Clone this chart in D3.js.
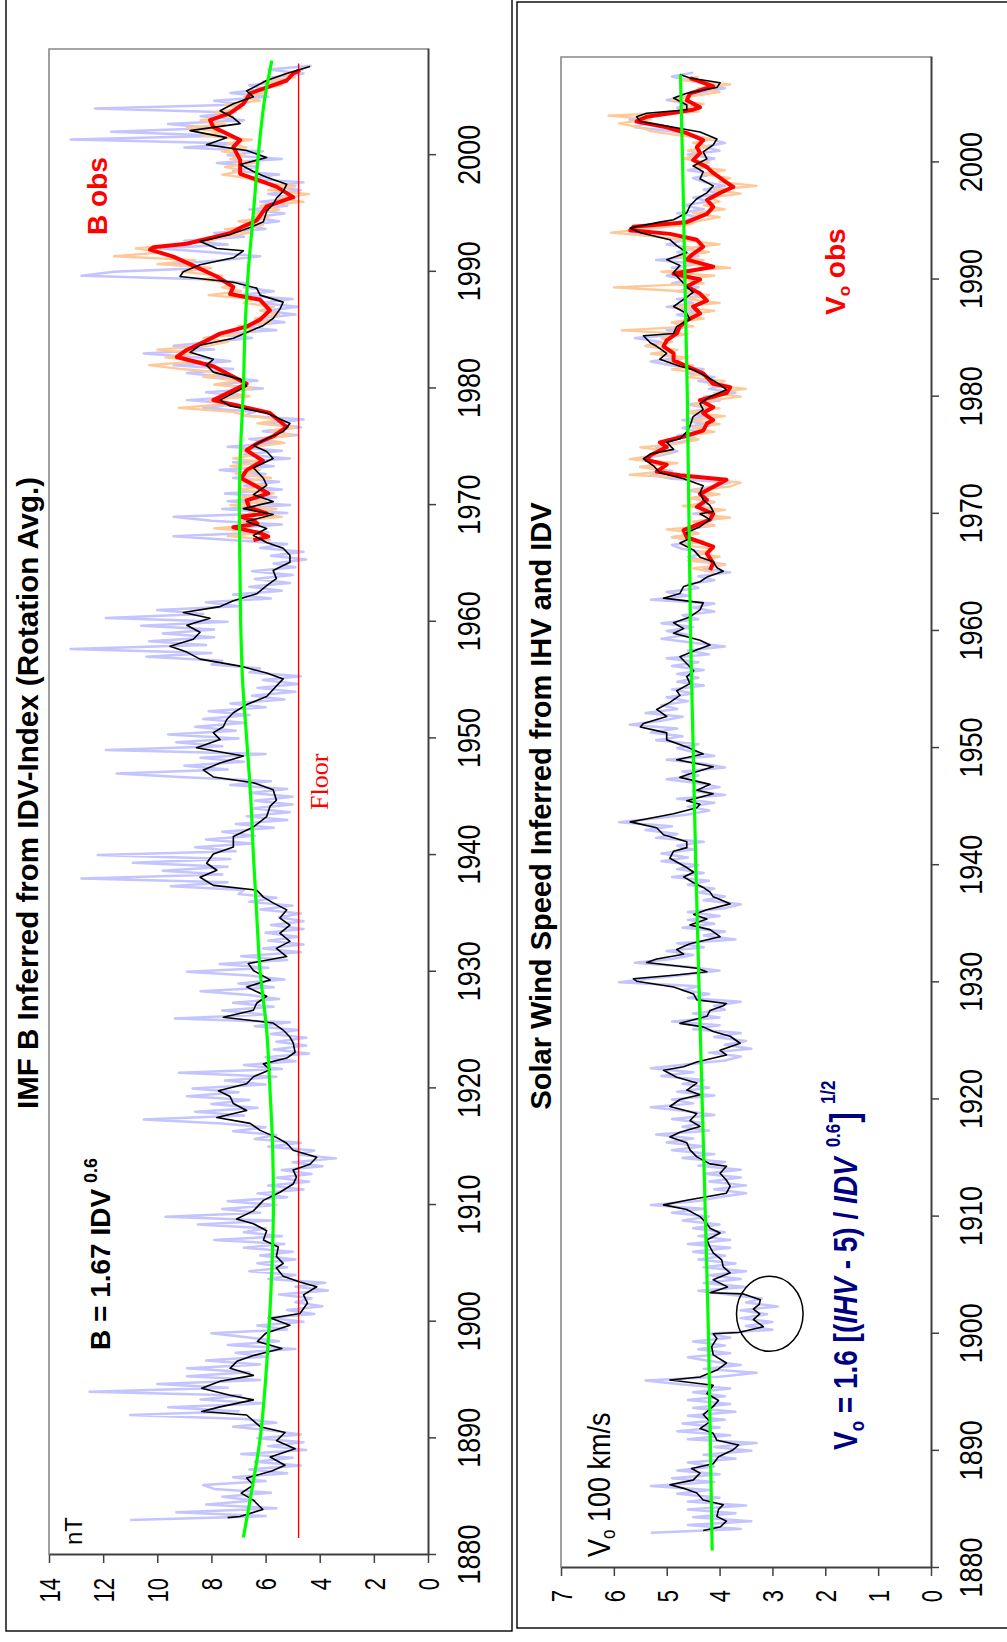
<!DOCTYPE html>
<html>
<head>
<meta charset="utf-8">
<script src="https://cdn.jsdelivr.net/npm/d3@7"></script>
<style>
  html, body { margin: 0; padding: 0; background: #fff; }
  svg { display: block; }
  text { font-family: "Liberation Sans", Arial, Helvetica, sans-serif; }
</style>
</head>
<body>
<svg id="chart" width="1007" height="1642"></svg>
<script>
// ---------------- data ----------------
const yearTicks = [1880, 1890, 1900, 1910, 1920, 1930, 1940, 1950, 1960, 1970, 1980, 1990, 2000];
const imfTicks = [0, 2, 4, 6, 8, 10, 12, 14];
const speedTicks = [0, 1, 2, 3, 4, 5, 6, 7];
const rawStep = 1 / 3;   // raw series sampled three times per year

// IMF B (nT): raw inferred values, starting 1883.0
const imfRawStart = 1883.0;
const imfRaw = [
  11.0,6.0,9.3, 5.6,8.2,6.4, 7.6,5.8,7.9, 8.3,6.0,7.2, 5.2,6.6,4.7, 6.4,5.0,6.9, 4.5,5.9,4.6, 6.3,4.7,5.8, 7.2,5.6,6.8, 11.0,7.0,9.6,
  6.1,8.4,6.9, 12.5,7.4,10.0, 6.2,8.9,6.6, 8.9,6.2,8.2, 6.0,7.1,4.9, 7.4,5.5,6.7, 8.0,5.2,6.3, 4.6,5.9,4.2, 5.2,3.9,4.9, 4.3,5.5,3.7,
  4.9,3.8,5.9, 4.9,6.6,5.2, 6.3,4.9,6.2, 5.0,6.8,5.3, 7.9,5.4,6.8, 6.0,8.5,5.8, 9.7,6.2,7.6, 5.6,7.4,5.2, 6.3,4.6,5.9, 4.4,5.6,4.3,
  5.4,3.9,5.0, 3.4,4.8,4.2, 5.9,4.7,6.4, 5.6,7.2,6.0, 7.6,10.5,6.8, 8.6,6.3,8.0, 6.6,8.9,7.0, 8.7,6.0,7.5, 5.6,9.2,5.4, 6.8,4.9,6.0,
  4.4,5.7,4.5, 5.6,4.5,5.8, 4.8,6.4,5.1, 9.35,6.0,7.6, 5.7,7.2,5.5, 6.6,8.4,5.7, 7.0,5.3,6.6, 8.9,5.9,7.7, 5.2,6.9,4.7, 6.1,4.6,5.9,
  4.8,6.0,4.6, 5.8,4.6,5.5, 4.7,6.2,5.0, 6.6,5.6,7.0, 6.8,9.5,7.4, 12.8,7.6,9.8, 7.4,10.9,7.3, 12.2,7.1,8.6, 6.5,8.2,6.4, 7.6,5.7,7.1,
  5.2,6.7,5.1, 6.5,5.0,6.4, 5.0,6.6,5.2, 7.3,5.8,9.0, 11.5,7.4,9.0, 6.8,8.4,6.0, 11.9,7.6,9.3, 7.0,9.6,7.1, 8.6,6.7,8.3, 6.6,8.1,6.0,
  7.3,5.3,6.5, 4.9,6.3,4.8, 6.1,4.7,6.6, 6.2,8.0,7.6, 10.4,8.0,13.2, 8.2,10.3,7.9, 9.8,7.9,10.6, 7.4,11.9,8.3, 10.0,7.0,8.2, 5.8,7.2,5.4,
  6.6,5.1,6.4, 5.0,6.5,4.9, 5.7,4.5,5.8, 4.6,6.2,5.2, 7.3,9.4,5.9, 7.6,5.4,8.0, 9.4,5.2,7.6, 5.1,7.4,5.6, 7.5,5.4,6.8, 5.5,7.2,6.0,
  7.7,5.7,7.2, 5.1,6.8,5.4, 7.4,5.5,6.6, 4.8,6.1,4.7, 5.9,4.6,6.8, 6.4,8.3,7.0, 8.9,6.7,8.2, 6.1,7.8,6.3, 7.6,8.9,7.2, 9.4,7.3,8.6,
  10.5,7.9,9.4, 7.9,6.5,7.8, 5.6,6.9,5.3, 6.3,4.9,6.0, 4.8,6.2,5.0, 7.0,5.7,6.8, 6.6,8.0,12.8, 11.6,8.2,9.5, 7.6,6.2,8.0, 9.9,7.4,9.0,
  6.8,7.9,6.0, 6.7,5.5,6.5, 5.3,6.6,5.2, 6.2,4.9,5.9, 4.7,5.8,4.6, 6.7,5.5,7.2, 6.3,7.8,5.4, 7.4,6.1,9.0, 7.0,13.2,7.6, 11.7,7.9,9.6,
  6.8,8.4,7.1, 12.3,6.8,7.9, 5.9,7.3,6.0, 6.6,5.2,5.8, 4.6,5.9,4.3
];

// IMF B running mean [year, nT]
const imfSmooth = [
  [1883.2,7.4],[1883.3,6.95],[1883.9,6.1],[1884.7,6.45],[1885.3,6.9],[1886.0,6.45],[1886.6,6.7],[1887.2,5.77],[1887.7,5.28],[1888.4,5.83],
  [1889.1,4.91],[1889.8,5.59],[1890.5,5.28],[1891.0,6.2],[1892.0,6.7],[1892.3,8.36],[1892.7,7.68],[1893.3,6.45],[1893.7,7.31],[1894.3,8.36],
  [1894.9,7.68],[1895.4,6.45],[1896.0,7.31],[1896.6,7.06],[1897.1,6.45],[1897.7,5.4],[1898.3,6.3],[1899.0,6.0],[1899.7,5.1],[1900.3,5.8],
  [1900.7,4.73],[1901.6,4.45],[1902.3,4.6],[1903.0,4.11],[1903.4,4.73],[1903.9,5.35],[1904.6,5.6],[1905.0,5.35],[1905.6,5.6],[1906.4,5.53],
  [1907.0,6.08],[1907.8,5.96],[1908.4,6.45],[1908.8,7.07],[1909.5,6.45],[1910.4,6.08],[1911.1,5.47],[1911.8,4.98],[1912.4,4.86],[1913.0,4.98],
  [1913.5,4.36],[1914.1,4.11],[1914.7,4.98],[1915.3,5.22],[1915.8,5.6],[1916.4,6.2],[1917.0,6.57],[1917.5,7.8],[1918.1,6.7],[1918.7,7.19],
  [1919.3,7.31],[1919.8,7.74],[1920.4,6.7],[1921.0,6.45],[1921.6,5.83],[1922.1,6.08],[1922.6,5.22],[1923.1,4.91],[1923.9,4.98],[1924.4,5.1],
  [1925.0,5.35],[1925.6,5.72],[1926.1,7.56],[1926.7,6.45],[1927.3,6.33],[1927.9,5.96],[1928.7,6.7],[1929.3,5.83],[1930.1,6.45],[1930.7,6.64],
  [1931.3,5.22],[1932.0,5.6],[1932.6,5.1],[1933.3,5.47],[1934.0,5.1],[1934.6,5.47],[1935.3,5.22],[1935.9,5.72],[1936.4,6.08],[1937.0,6.33],
  [1937.4,7.93],[1938.1,8.42],[1938.7,7.8],[1939.3,8.18],[1940.1,7.93],[1940.7,7.19],[1941.6,7.19],[1942.4,6.45],[1943.3,5.96],[1944.2,5.83],
  [1944.7,5.6],[1945.6,5.72],[1946.2,6.45],[1946.7,7.93],[1947.3,8.3],[1947.9,7.68],[1948.5,6.82],[1949.2,8.55],[1949.9,7.68],[1950.5,7.93],
  [1951.0,7.56],[1951.6,7.44],[1952.2,7.19],[1952.9,6.7],[1953.6,5.96],[1954.5,5.6],[1955.1,5.35],[1955.6,5.96],[1956.2,6.94],[1956.8,8.42],
  [1957.4,8.91],[1957.9,9.53],[1958.5,8.67],[1959.1,8.42],[1959.7,8.91],[1960.3,8.05],[1960.8,9.04],[1961.3,7.68],[1961.8,7.19],[1962.4,6.33],
  [1963.1,5.96],[1963.7,5.6],[1964.4,5.72],[1965.1,5.1],[1965.7,5.1],[1966.3,5.35],[1966.8,5.96],[1967.4,6.45],[1968.0,5.96],[1968.6,6.7],
  [1969.2,5.72],[1969.7,6.82],[1970.3,5.72],[1970.9,6.45],[1971.7,5.96],[1972.3,6.08],[1973.2,6.45],[1974.0,5.72],[1974.6,5.96],[1975.1,6.45],
  [1975.7,5.96],[1976.3,5.35],[1977.0,5.1],[1977.9,5.96],[1978.5,7.31],[1979.0,7.68],[1979.6,7.19],[1980.2,6.7],[1980.8,6.94],[1981.4,7.93],
  [1982.0,8.18],[1982.5,7.93],[1983.1,8.79],[1983.7,8.42],[1984.3,7.19],[1984.8,6.7],[1985.4,6.08],[1986.0,5.72],[1986.8,5.47],[1987.4,5.35],
  [1988.0,6.2],[1988.6,6.33],[1989.1,7.19],[1989.6,9.16],[1990.0,9.04],[1990.6,8.42],[1991.2,7.19],[1991.8,6.82],[1992.0,7.8],[1992.6,8.42],
  [1993.2,7.31],[1993.8,6.57],[1994.3,6.08],[1995.2,5.96],[1995.8,5.72],[1996.3,5.6],[1996.9,5.35],[1997.5,5.22],[1998.1,5.96],[1998.6,6.45],
  [1999.2,6.94],[1999.8,5.96],[2000.4,6.7],[2000.9,8.18],[2001.5,7.44],[2002.1,8.79],[2002.7,6.94],[2003.2,7.19],[2003.8,7.68],[2004.4,7.19],
  [2005.0,6.45],[2005.5,6.7],[2006.4,5.96],[2007.0,5.22],[2007.6,4.36]
];

// observed B: raw values from 1967.0 and running mean [year, nT]
const imfObsRawStart = 1967.0;
const imfObsRaw = [
  5.8,7.4,6.0, 7.9,6.2,7.0, 5.4,6.6,5.6, 7.3,6.0,6.9, 5.7,7.0,6.0, 6.9,5.8,7.1, 6.2,7.3,6.1, 7.2,6.3,6.9, 6.4,5.3,6.1, 5.0,5.8,4.9,
  6.3,5.4,6.7, 7.2,9.2,7.4, 8.1,6.6,7.4, 6.5,7.9,7.0, 8.3,7.5,9.1, 10.3,8.4,9.7, 8.6,10.0,8.1, 7.4,8.3,6.9, 6.4,7.0,5.8, 6.4,5.5,6.2,
  5.7,6.8,6.4, 8.1,6.9,7.6, 7.2,8.3,7.6, 9.1,8.0,10.0, 8.6,11.6,9.8, 10.8,9.2,8.0, 7.6,6.6,7.5, 6.1,7.0,5.9, 6.5,5.5,6.2, 4.6,5.5,4.4,
  5.9,4.9,6.3, 6.6,7.6,6.8, 7.5,6.4,7.3, 6.8,7.6,6.7, 7.4,6.5,8.3, 7.6,8.9,7.5, 8.4,7.2,7.9, 6.9,7.5,6.2, 6.8,6.0,6.3, 5.4,6.1,4.9,
  5.3,4.6
];
const imfObs = [
  [1967.0,6.45],[1967.3,5.9],[1967.6,6.2],[1968.1,7.19],[1968.4,6.3],[1968.7,6.45],[1969.0,6.9],[1969.3,5.96],[1969.8,6.6],[1970.4,6.7],
  [1971.0,5.9],[1971.6,6.33],[1972.3,6.9],[1973.0,6.7],[1973.8,6.1],[1974.7,6.7],[1975.3,6.3],[1975.9,5.72],[1976.7,5.22],[1977.9,5.84],
  [1979.0,7.93],[1980.4,6.7],[1981.9,7.93],[1982.7,9.28],[1983.3,8.91],[1984.1,8.18],[1984.7,7.68],[1985.3,6.7],[1985.9,6.2],[1986.7,5.84],
  [1987.6,6.2],[1988.1,7.31],[1988.7,7.19],[1989.6,7.8],[1990.4,8.55],[1991.3,9.41],[1991.9,10.27],[1992.1,10.15],[1992.4,8.91],[1993.3,7.31],
  [1993.9,6.82],[1994.4,6.33],[1995.6,5.96],[1996.4,4.98],[1997.3,5.6],[1998.4,6.94],[1999.6,6.94],[2000.7,7.19],[2001.3,6.94],[2002.4,7.93],
  [2003.0,8.05],[2003.6,7.31],[2004.4,6.82],[2005.3,6.57],[2005.9,5.84],[2006.4,5.22],[2007.0,4.98],[2007.3,4.73]
];

// long-term trend of B [year, nT]
const imfTrend = [
  [1881.5,6.82],[1885,6.55],[1890,6.2],[1895,6.0],[1900,5.86],[1905,5.76],[1910,5.71],[1915,5.74],[1920,5.84],[1925,5.96],
  [1930,6.2],[1935,6.33],[1940,6.45],[1945,6.55],[1950,6.7],[1955,6.85],[1960,6.92],[1965,6.95],[1970,6.97],[1975,6.92],
  [1980,6.82],[1985,6.76],[1990,6.64],[1995,6.45],[2000,6.27],[2005,6.02],[2008.1,5.77]
];
const imfFloor = 4.78;
const floorSpan = [1881.46, 2007.86];

// Solar wind speed (100 km/s): raw inferred values, starting 1883.0
const speedRawStart = 1883.0;
const speedRaw = [
  5.3,3.6,4.6, 3.4,4.5,3.7, 4.6,3.5,4.6, 4.0,4.8,4.2, 5.3,4.1,4.9, 4.0,4.8,4.1, 4.6,3.7,4.3, 3.4,4.1,3.3, 4.6,3.8,4.8, 4.0,4.7,3.9,
  4.6,3.7,4.5, 3.8,4.6,3.9, 4.5,3.8,4.7, 5.4,4.0,3.3, 4.3,3.6,4.2, 4.6,3.8,4.4, 3.9,4.5,3.8, 4.2,3.0,3.5, 3.0,3.6,3.1, 3.6,2.9,3.5,
  3.2,3.8,4.4, 3.5,4.3,3.6, 4.2,3.5,4.3, 3.7,4.4,3.9, 4.5,3.8,4.6, 3.8,4.4,3.9, 4.5,4.0,4.7, 4.2,4.9,4.3, 5.3,4.4,4.0, 3.5,4.1,3.5,
  4.2,3.6,4.3, 3.6,4.4,3.9, 4.7,4.1,4.9, 4.3,5.0,4.5, 5.2,4.2,4.7, 4.3,4.9,4.1, 4.6,5.3,4.5, 4.9,4.1,4.8, 4.2,4.7,4.3, 5.1,4.5,5.3,
  4.6,3.9,3.6, 4.2,3.4,3.9, 3.5,4.1,3.6, 4.5,4.0,4.9, 4.0,4.5,3.9, 4.1,3.6,4.6, 4.2,4.7,4.4, 5.9,5.3,4.6, 4.0,4.6,5.6, 4.9,4.5,5.0,
  4.3,4.8,3.7, 4.3,3.9,4.7, 4.1,4.6,4.0, 4.6,3.9,3.6, 4.3,3.9,4.4, 4.1,4.6,4.2, 4.9,4.3,4.8, 4.4,5.1,4.6, 5.1,4.5,4.8, 4.3,5.2,4.8,
  5.4,4.9,5.9, 5.2,4.6,4.2, 4.6,4.1,4.8, 3.9,4.5,4.0, 4.4,5.0,4.4, 4.7,3.9,4.3, 5.0,4.1,4.5, 4.8,4.4,5.2, 4.7,5.3,4.8, 5.7,5.1,4.7,
  5.4,4.8,5.1, 4.6,5.0,4.5, 4.9,4.3,4.8, 4.4,4.8,4.3, 4.9,4.4,5.0, 4.2,4.6,3.9, 4.5,5.1,4.6, 5.0,4.5,5.1, 4.4,4.7,4.1, 4.5,4.1,5.3,
  4.6,5.0,4.4, 4.6,4.1,4.4, 3.8,4.3,3.9, 4.3,4.6,4.2, 4.7,4.9,4.4, 4.9,4.4,4.7, 4.1,4.5,3.9, 4.5,4.0,4.4, 4.1,4.5,4.2, 4.6,4.1,3.8,
  4.9,5.3,4.9, 5.5,5.0,5.6, 5.1,4.8,5.2, 4.9,4.5,4.8, 4.4,4.7,4.3, 4.7,4.3,4.6, 4.2,4.6,4.0, 4.3,3.7,4.2, 3.9,4.4,4.1, 4.6,4.3,4.9,
  5.3,4.8,5.2, 4.9,5.4,5.1, 5.6,4.7,5.0, 4.6,4.9,4.4, 4.8,4.4,5.0, 4.5,4.8,4.3, 4.8,4.4,4.9, 4.6,5.0,4.6, 4.9,4.4,5.2, 4.4,4.8,4.5,
  5.0,4.7,5.2, 5.7,5.4,4.9, 4.7,4.4,4.8, 4.3,4.7,4.2, 4.5,4.0,4.3, 3.9,4.3,4.5, 4.1,4.6,4.2, 4.4,4.1,4.6, 4.0,4.3,3.9, 4.2,4.5,4.9,
  5.6,5.4,5.7, 5.2,4.5,4.8, 4.6,5.0,4.6, 4.3,3.9,4.2, 4.6,4.9,4.5
];

// Solar wind speed running mean [year, 100 km/s]
const speedSmooth = [
  [1883.2,4.31],[1883.5,3.99],[1884.0,3.87],[1884.4,4.05],[1885.0,4.02],[1885.4,3.93],[1885.8,4.31],[1886.4,4.43],[1886.8,4.68],[1887.1,4.94],
  [1887.5,4.5],[1888.1,4.37],[1888.5,4.53],[1888.9,4.12],[1889.5,4.02],[1890.1,3.74],[1890.5,3.64],[1890.9,4.05],[1891.5,4.12],[1891.9,4.37],
  [1892.5,4.18],[1893.1,4.31],[1893.8,4.12],[1894.3,4.02],[1894.9,4.24],[1895.6,4.12],[1896.05,4.94],[1896.3,4.37],[1896.9,4.05],[1897.5,3.87],
  [1898.2,4.12],[1898.9,4.15],[1899.6,4.05],[1900.0,4.12],[1900.1,3.64],[1900.6,3.17],[1901.2,3.36],[1901.7,3.24],[1902.1,3.36],[1902.5,3.25],
  [1902.9,3.23],[1903.4,3.55],[1903.5,4.18],[1904.0,3.85],[1904.6,4.12],[1905.2,3.80],[1905.7,3.93],[1906.3,3.96],[1906.9,4.12],[1907.4,4.18],
  [1908.0,4.24],[1908.6,3.99],[1909.0,4.18],[1909.4,4.24],[1910.0,4.37],[1910.6,4.62],[1911.0,5.06],[1911.4,4.62],[1912.0,3.87],[1912.6,3.80],
  [1913.1,3.87],[1913.7,3.99],[1914.3,3.87],[1914.5,4.18],[1915.1,4.43],[1915.7,4.56],[1916.3,4.62],[1916.8,4.94],[1917.2,4.75],[1917.7,4.37],
  [1918.2,4.56],[1918.8,4.43],[1919.4,4.94],[1920.0,4.75],[1920.4,4.37],[1920.8,4.62],[1921.4,4.43],[1921.9,4.81],[1922.5,5.06],[1922.8,4.68],
  [1923.2,4.43],[1923.8,3.87],[1924.2,3.99],[1924.8,3.61],[1925.4,3.80],[1925.8,4.12],[1926.2,4.31],[1926.5,4.75],[1927.1,4.24],[1927.6,4.18],
  [1928.0,3.93],[1928.2,3.87],[1928.5,4.43],[1929.0,4.49],[1929.6,4.87],[1930.1,5.57],[1930.3,5.63],[1930.6,4.87],[1930.9,4.24],[1931.2,4.43],
  [1931.7,5.38],[1932.0,5.19],[1932.4,4.68],[1932.8,4.81],[1933.3,4.56],[1933.9,3.99],[1934.5,4.18],[1934.9,4.56],[1935.4,4.24],[1935.8,4.49],
  [1936.2,4.24],[1936.7,3.80],[1937.3,4.12],[1937.7,4.18],[1938.1,4.31],[1938.5,4.49],[1939.0,4.68],[1939.4,4.49],[1939.8,4.62],[1940.6,4.94],
  [1941.2,4.87],[1941.5,4.62],[1942.0,4.62],[1942.6,5.06],[1943.2,5.19],[1943.7,5.69],[1943.9,5.44],[1944.4,4.87],[1944.9,4.43],[1945.2,4.37],
  [1945.5,4.62],[1946.1,4.12],[1946.4,4.43],[1946.9,4.18],[1947.5,4.75],[1947.8,4.56],[1948.4,4.12],[1949.0,4.81],[1949.5,4.31],[1950.1,4.62],
  [1950.7,5.0],[1951.3,5.0],[1951.8,5.50],[1952.1,5.44],[1952.7,5.0],[1953.3,5.19],[1953.9,4.94],[1954.5,4.75],[1954.9,4.81],[1955.5,4.56],
  [1956.1,4.62],[1956.6,4.49],[1957.2,4.62],[1957.8,4.75],[1958.4,4.43],[1958.8,4.18],[1959.2,4.37],[1959.8,4.87],[1960.2,4.68],[1960.7,4.87],
  [1961.2,4.56],[1961.8,4.37],[1962.4,4.31],[1962.8,5.06],[1963.2,4.75],[1963.8,4.68],[1964.2,4.37],[1964.6,4.24],[1965.1,3.93],[1965.4,4.05],
  [1965.9,4.12],[1966.3,4.37],[1966.9,4.49],[1967.5,4.75],[1967.9,4.56],[1968.4,4.62],[1968.9,4.37],[1969.5,4.18],[1970.0,4.37],[1970.2,4.12],
  [1970.7,4.18],[1971.2,4.31],[1971.8,4.37],[1972.4,4.31],[1973.0,4.68],[1973.5,5.13],[1974.1,5.25],[1974.7,5.44],[1975.1,5.31],[1975.5,4.87],
  [1976.1,5.0],[1976.4,4.75],[1977.0,4.62],[1977.5,4.56],[1978.3,4.50],[1978.9,4.31],[1979.4,4.37],[1980.0,4.18],[1980.6,3.87],[1981.2,4.05],
  [1981.7,4.24],[1982.3,4.50],[1982.6,4.75],[1983.2,5.13],[1983.7,5.0],[1984.3,5.19],[1984.6,5.31],[1985.2,5.44],[1985.4,4.87],[1986.0,4.81],
  [1986.6,4.56],[1987.1,4.62],[1987.7,4.87],[1988.3,4.68],[1988.9,4.50],[1989.4,4.62],[1990.0,4.75],[1990.6,4.87],[1991.2,4.75],[1991.7,5.0],
  [1992.3,4.62],[1992.9,4.81],[1993.4,4.94],[1994.0,5.50],[1994.4,5.69],[1994.9,5.13],[1995.1,4.87],[1995.7,4.62],[1996.3,4.56],[1996.9,4.43],
  [1997.4,4.24],[1998.0,4.12],[1998.6,4.37],[1999.2,4.31],[1999.7,4.50],[2000.3,4.24],[2000.9,4.31],[2001.5,4.12],[2002.0,4.05],[2002.6,4.37],
  [2003.0,4.87],[2003.5,5.50],[2003.9,5.57],[2004.2,5.38],[2004.5,4.62],[2004.9,4.62],[2005.5,4.87],[2005.9,4.62],[2006.4,4.05],[2006.8,3.99],
  [2007.2,4.56],[2007.5,4.75]
];

// observed solar wind speed: raw values from 1965.0 and running mean
const speedObsRawStart = 1965.0;
const speedObsRaw = [
  4.1,4.5,3.9, 4.6,4.0,4.4, 4.1,4.7,4.3, 4.9,4.4,5.0, 4.1,4.5,3.8, 4.4,3.9,4.7, 4.1,4.6,4.0, 4.5,3.8,3.6, 4.3,5.7,5.0, 5.5,4.8,5.7,
  5.2,4.9,5.5, 4.8,4.4,4.6, 4.1,4.5,4.0, 4.5,3.9,4.6, 4.0,4.5,4.2, 3.6,4.1,3.5, 4.2,3.9,4.6, 4.3,4.9,4.5, 5.0,4.6,5.3, 4.8,5.4,4.9,
  5.1,4.6,5.85, 4.5,4.9,4.3, 4.6,4.1,4.8, 4.0,4.6,4.2, 4.7,6.0,4.3, 4.7,4.1,5.1, 3.8,4.6,4.3, 4.8,4.2,4.7, 4.0,4.6,5.2, 6.05,5.4,4.6,
  4.4,4.0,4.5, 3.9,4.3,4.0, 4.2,3.6,4.1, 3.3,4.0,3.8, 4.3,3.9,4.5, 4.2,4.7,4.3, 4.6,4.2,4.5, 4.1,4.8,5.3, 5.5,5.9,5.3, 6.1,4.4,4.7,
  4.3,4.9,4.5, 4.0,4.4,3.8, 4.7,4.4
];
const speedObs = [
  [1965.2,4.18],[1965.8,4.12],[1966.6,4.24],[1967.2,4.12],[1968.0,4.62],[1968.6,4.68],[1969.5,4.18],[1970.0,4.12],[1970.6,4.43],[1971.2,4.24],
  [1971.7,4.37],[1972.3,4.12],[1972.9,3.87],[1973.3,4.75],[1973.6,5.19],[1974.2,5.0],[1974.6,5.38],[1975.0,5.31],[1975.7,5.0],[1976.1,5.13],
  [1976.6,4.68],[1977.1,4.31],[1977.7,4.24],[1978.0,4.12],[1978.6,4.31],[1979.1,4.12],[1979.7,4.37],[1980.3,3.87],[1980.8,3.80],[1981.1,4.12],
  [1982.0,4.31],[1982.6,4.62],[1983.1,4.87],[1983.7,4.87],[1984.3,5.06],[1984.8,5.0],[1985.4,4.81],[1986.0,4.75],[1986.5,4.62],[1987.1,4.37],
  [1987.7,4.50],[1988.2,4.24],[1988.8,4.37],[1989.4,4.62],[1990.0,4.37],[1990.5,4.87],[1991.1,4.12],[1991.7,4.62],[1992.2,4.50],[1992.8,4.31],
  [1993.4,4.43],[1993.9,4.94],[1994.2,5.69],[1994.5,5.63],[1994.9,4.62],[1995.6,4.24],[1996.2,4.12],[1996.8,4.24],[1997.4,3.99],[1997.9,3.74],
  [1998.3,3.87],[1999.1,4.12],[1999.6,4.24],[2000.2,4.50],[2000.8,4.37],[2001.3,4.43],[2001.9,4.31],[2002.5,4.62],[2003.0,5.0],[2003.5,5.57],
  [2003.9,5.38],[2004.5,4.50],[2004.7,4.37],[2005.3,4.62],[2005.9,4.56],[2006.5,4.12],[2007.0,4.43],[2007.2,4.56]
];

// long-term trend of the speed [year, 100 km/s]
const speedTrend = [
  [1881.5,4.14],[1900,4.21],[1920,4.33],[1940,4.45],[1960,4.55],[1980,4.61],[2000,4.70],[2007.5,4.74]
];

// circled interval (centre year, centre speed, half-width in years, half-height in speed)
const circled = { year: 1901.7, value: 3.05, dYear: 3.2, dValue: 0.63 };

// ---------------- drawing ----------------
const svg = d3.select("#chart");
svg.append("rect").attr("width", 1007).attr("height", 1642).attr("fill", "#fff");

// the figure is laid out landscape and turned a quarter turn counter-clockwise
const root = svg.append("g").attr("transform", "translate(0,1642) rotate(-90)");

function addLabel(g, u, v, parts, o) {
  const t = g.append("text")
    .attr("transform", `translate(${u},${v}) scale(1,${o.k || 1})`)
    .attr("text-anchor", o.anchor || "start")
    .attr("font-size", o.size)
    .attr("font-weight", o.weight || "normal")
    .attr("fill", o.color || "#000");
  if (o.family) t.style("font-family", o.family);
  parts.forEach(p => {
    const s = t.append("tspan").text(p.t);
    if (p.size) s.attr("font-size", p.size);
    if (p.dy) s.attr("dy", p.dy);
    if (p.dx) s.attr("dx", p.dx);
    if (p.italic) s.attr("font-style", "italic");
  });
  return t;
}

function drawPanel(p) {
  const g = root.append("g");

  g.append("rect")
    .attr("x", p.frame[0]).attr("y", p.frame[1])
    .attr("width", p.frame[2] - p.frame[0]).attr("height", p.frame[3] - p.frame[1])
    .attr("fill", "none").attr("stroke", "#000").attr("stroke-width", 1.4);

  const x = d3.scaleLinear().domain([1880, p.yearMax]).range([p.left, p.right]);
  const y = d3.scaleLinear().domain([0, p.vMax]).range([p.bottom, p.top]);

  // plot-area border on the two sides without an axis
  g.append("path")
    .attr("d", `M${p.left},${p.top}H${p.right}V${p.bottom}`)
    .attr("fill", "none").attr("stroke", "#888").attr("stroke-width", 1.6);

  const line = d3.line().x(d => x(d[0])).y(d => y(d[1]));
  const toPairs = (start, arr) => arr.map((v, i) => [start + i * rawStep, v]);

  g.append("path").datum(toPairs(p.rawStart, p.raw))
    .attr("d", line).attr("fill", "none")
    .attr("stroke", "#c4c4ff").attr("stroke-width", 2.5).attr("stroke-linejoin", "round");

  g.append("path").datum(toPairs(p.obsRawStart, p.obsRaw))
    .attr("d", line).attr("fill", "none")
    .attr("stroke", "#ffc896").attr("stroke-width", 2.3).attr("stroke-linejoin", "round");

  if (p.floor !== undefined) {
    g.append("line")
      .attr("x1", x(p.floorSpan[0])).attr("x2", x(p.floorSpan[1]))
      .attr("y1", y(p.floor)).attr("y2", y(p.floor))
      .attr("stroke", "#ff0000").attr("stroke-width", 1.4);
  }

  g.append("path").datum(p.obs)
    .attr("d", line).attr("fill", "none")
    .attr("stroke", "#ff0000").attr("stroke-width", 4).attr("stroke-linejoin", "round");

  g.append("path").datum(p.smooth)
    .attr("d", line).attr("fill", "none")
    .attr("stroke", "#000").attr("stroke-width", 1.6).attr("stroke-linejoin", "round");

  g.append("path").datum(p.trend)
    .attr("d", d3.line().x(d => x(d[0])).y(d => y(d[1])).curve(d3.curveMonotoneX))
    .attr("fill", "none").attr("stroke", "#00ff00").attr("stroke-width", 3.2);

  // year axis
  const xa = g.append("g").attr("transform", `translate(0,${p.bottom})`)
    .call(d3.axisBottom(x).tickValues(yearTicks).tickFormat(d3.format("d"))
      .tickSize(8).tickSizeOuter(0).tickPadding(0));
  xa.select(".domain").attr("stroke", "#404040").attr("stroke-width", 2);
  xa.selectAll(".tick line").attr("stroke", "#404040").attr("stroke-width", 1.5);
  xa.selectAll(".tick text")
    .attr("fill", "#000").attr("font-size", 27)
    .attr("y", p.yearLabelBase / 1.19).attr("dy", null)
    .attr("transform", "scale(1,1.19)");

  // value axis
  const ya = g.append("g").attr("transform", `translate(${p.left},0)`)
    .call(d3.axisLeft(y).tickValues(p.vTicks).tickFormat(d3.format("d"))
      .tickSize(8).tickSizeOuter(0).tickPadding(0));
  ya.select(".domain").attr("stroke", "#404040").attr("stroke-width", 2);
  ya.selectAll(".tick line").attr("stroke", "#404040").attr("stroke-width", 1.5);
  ya.selectAll(".tick text")
    .attr("fill", "#000").attr("font-size", 22)
    .attr("x", -p.valueLabelGap).attr("dy", "0.36em")
    .attr("transform", "scale(1,1.3)");

  return { g, x, y };
}

// ---- panel 1: IMF B ----
const P1 = drawPanel({
  frame: [11, 6, 1670, 512],
  left: 87, right: 1593, top: 49, bottom: 428,
  yearMax: 2009.1, vMax: 14, vTicks: imfTicks,
  raw: imfRaw, rawStart: imfRawStart,
  obsRaw: imfObsRaw, obsRawStart: imfObsRawStart,
  obs: imfObs, smooth: imfSmooth, trend: imfTrend,
  floor: imfFloor, floorSpan: floorSpan,
  yearLabelBase: 52, valueLabelGap: 23
});
addLabel(P1.g, 849, 38, [{ t: "IMF B Inferred from IDV-Index (Rotation Avg.)" }],
  { size: 29.5, weight: "bold", anchor: "middle" });
addLabel(P1.g, 97, 82, [{ t: "nT" }], { size: 24 });
addLabel(P1.g, 292, 110,
  [{ t: "B = 1.67 IDV" }, { t: "0.6", size: 18, dy: -13, dx: 6 }],
  { size: 28, weight: "bold" });
addLabel(P1.g, 1407, 107, [{ t: "B obs" }], { size: 28, weight: "bold", color: "#ff0000" });
addLabel(P1.g, 832, 328, [{ t: "Floor" }],
  { size: 26, color: "#ff0000", family: "'Liberation Serif','Times New Roman',serif" });

// ---- panel 2: solar wind speed ----
const P2 = drawPanel({
  frame: [14, 517, 1640, 1015],
  left: 74, right: 1585, top: 561, bottom: 931,
  yearMax: 2009.0, vMax: 7, vTicks: speedTicks,
  raw: speedRaw, rawStart: speedRawStart,
  obsRaw: speedObsRaw, obsRawStart: speedObsRawStart,
  obs: speedObs, smooth: speedSmooth, trend: speedTrend,
  yearLabelBase: 51, valueLabelGap: 22
});
addLabel(P2.g, 836, 551, [{ t: "Solar Wind Speed Inferred from IHV and IDV" }],
  { size: 29, weight: "bold", anchor: "middle" });
addLabel(P2.g, 85, 610,
  [{ t: "V" }, { t: "o", size: 17, dy: 4 }, { t: " 100 km/s", dy: -4 }],
  { size: 27, k: 1.15 });
addLabel(P2.g, 1327, 845,
  [{ t: "V" }, { t: "o", size: 17, dy: 5 }, { t: " obs", dy: -5 }],
  { size: 28, weight: "bold", color: "#ff0000" });
addLabel(P2.g, 192, 857,
  [{ t: "V" }, { t: "o", size: 17, dy: 6 }, { t: " = 1.6 [(", dy: -6 },
   { t: "IHV", italic: true }, { t: " - 5) / " }, { t: "IDV", italic: true },
   { t: "0.6", size: 17, dy: -14, dx: 10 }, { t: "]", dy: 14, dx: 1, size: 32 },
   { t: "1/2", size: 17, dy: -18, dx: 8 }],
  { size: 28, weight: "bold", color: "#000080", k: 1.2 });

P2.g.append("ellipse")
  .attr("cx", P2.x(circled.year)).attr("cy", P2.y(circled.value))
  .attr("rx", P2.x(circled.year + circled.dYear) - P2.x(circled.year))
  .attr("ry", P2.y(circled.value) - P2.y(circled.value + circled.dValue))
  .attr("fill", "none").attr("stroke", "#000").attr("stroke-width", 1.5);
</script>
</body>
</html>
